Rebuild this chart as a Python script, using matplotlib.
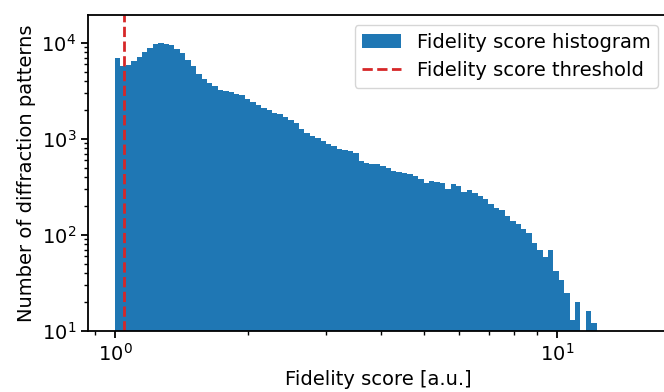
import numpy as np
import matplotlib
matplotlib.use("Agg")
import matplotlib.pyplot as plt

# Histogram bin edges (log-spaced from 1.0 to ~12.3) and counts per bin
bin_min = 1.0
bin_max = 12.3
n_bins = 89
counts = [
    7015, 5730, 5873, 6460, 7180, 8020, 8913, 9817, 10050, 9817,
    9420, 8700, 7910, 6570, 5690, 4700, 4165, 3850, 3548, 3222,
    3148, 3073, 2958, 2860, 2623, 2417, 2234, 2114, 1995, 1875,
    1800, 1694, 1578, 1450, 1256, 1140, 1075, 1012, 942, 891,
    841, 778, 759, 750, 706, 583, 565, 549, 542, 523,
    493, 464, 453, 442, 427, 407, 379, 348, 361, 352,
    350, 298, 336, 322, 279, 293, 275, 253, 234, 208,
    189, 184, 157, 139, 129, 116, 106, 82, 70, 59,
    70, 42, 34, 25, 13, 20, 0, 16, 12,
]
threshold = 1.05

edges = np.logspace(np.log10(bin_min), np.log10(bin_max), n_bins + 1)

fig = plt.figure(figsize=(6.64, 3.92), dpi=100)
ax = fig.add_axes([88 / 664, 1 - 331 / 392, 580 / 664, 316 / 392])

ax.hist(edges[:-1], bins=edges, weights=counts, color="#1f77b4",
        label="Fidelity score histogram")
ax.axvline(threshold, color="#d62728", ls="--", lw=2,
           label="Fidelity score threshold")

ax.set_xscale("log")
ax.set_yscale("log")
ax.set_xlim(0.869, 17.83)
ax.set_ylim(10, 19500)

for s in ax.spines.values():
    s.set_linewidth(1.3)
ax.tick_params(which="major", length=5, width=1.3, labelsize=14)
ax.tick_params(which="minor", length=3, width=1.0)

ax.set_xlabel("Fidelity score [a.u.]", fontsize=14)
ax.set_ylabel("Number of diffraction patterns", fontsize=14)
ax.legend(loc="upper right", fontsize=14)

fig.savefig("out.png", dpi=100)
